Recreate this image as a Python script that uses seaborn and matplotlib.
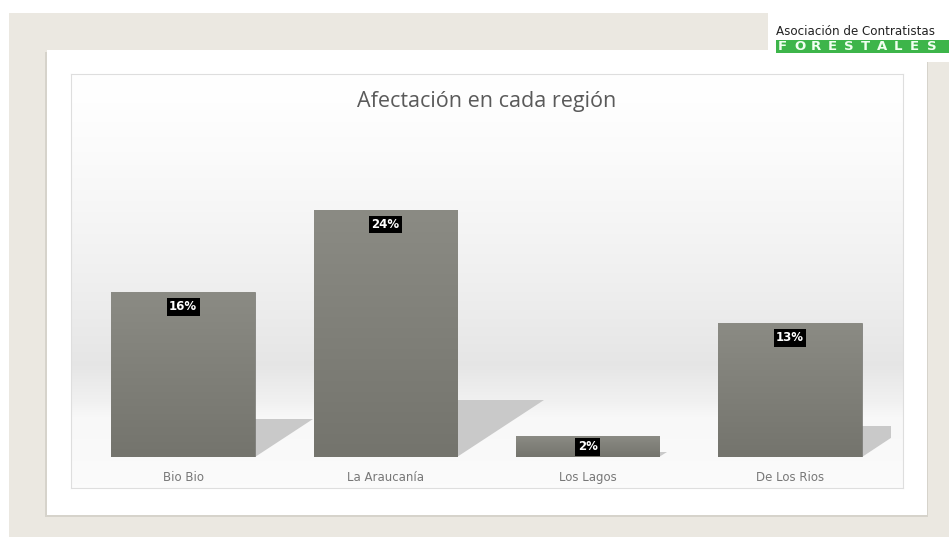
import numpy as np
import matplotlib
matplotlib.use("Agg")
import matplotlib.pyplot as plt
import matplotlib.patches as mpatches
from matplotlib.colors import LinearSegmentedColormap
import seaborn as sns

# ---- data ----
regions = ["Bio Bio", "La Araucanía", "Los Lagos", "De Los Rios"]
values = [16, 24, 2, 13]
labels = ["16%", "24%", "2%", "13%"]
title = "Afectación en cada región"
logo_top = "Asociación de Contratistas"
logo_bottom = "FORESTALES"

sns.set_theme(style="white")
plt.rcParams['font.family'] = ['Lato', 'DejaVu Sans']

W, H = 949, 537
fig = plt.figure(figsize=(W / 100, H / 100), dpi=100)
fig.patch.set_facecolor("white")


def fx(x):
    return x / W


def fy(y):
    return 1 - y / H


def rect_px(x0, y0, x1, y1, **kw):
    r = mpatches.Rectangle((fx(x0), fy(y1)), fx(x1) - fx(x0), fy(y0) - fy(y1),
                           transform=fig.transFigure, **kw)
    fig.add_artist(r)
    return r


# slide background
rect_px(9, 13, W + 2, H + 2, facecolor="#ebe8e1", edgecolor="none", zorder=0)
# card shadow + card
rect_px(45, 52, 928, 517, facecolor="#d6d3cb", edgecolor="none", zorder=0.5)
rect_px(47, 50, 927, 515, facecolor="white", edgecolor="none", zorder=0.6)
# logo area
rect_px(768, 13, W + 2, 62, facecolor="white", edgecolor="none", zorder=0.7)
rect_px(776, 40, W + 2, 53, facecolor="#3db54a", edgecolor="none", zorder=0.8)
fig.text(fx(776), fy(35), logo_top, fontsize=8.6,
         color="#222222", ha="left", va="baseline",
         family=["DejaVu Sans"], zorder=1)
for i, ch in enumerate(logo_bottom):
    fig.text(fx(778 + i * 16.5), fy(46.8), ch, fontsize=9.5,
             fontweight="bold", color="#f0fff0", ha="left", va="center",
             family=["DejaVu Sans"], zorder=1)

# chart area background (gradient wall + floor)
bg = fig.add_axes([fx(71), fy(488), fx(903) - fx(71), fy(74) - fy(488)], zorder=1)
ys = np.linspace(74, 488, 415)
col = np.zeros_like(ys)
for i, y in enumerate(ys):
    if y < 365:
        t = (y - 74) / (365 - 74)
        col[i] = 1.0 - 0.10 * t ** 1.4
    elif y < 402:
        t = (y - 365) / (402 - 365)
        col[i] = 0.90 + 0.045 * t
    else:
        t = min(1.0, (y - 402) / 15)
        col[i] = 0.945 + 0.025 * t + 0.015 * (y - 402) / 86
img = np.repeat(col[:, None], 10, axis=1)
bg.imshow(np.dstack([img, img, img]), aspect="auto", extent=[0, 1, 0, 1],
          interpolation="bilinear")
bg.set_xticks([])
bg.set_yticks([])
for s in bg.spines.values():
    s.set_color("#dedede")
    s.set_linewidth(0.8)

# title
fig.text(fx(487), fy(101), title, fontsize=15.5, color="#5a5a5a",
         ha="center", va="center", family=["Open Sans", "DejaVu Sans"], zorder=3)

# main axes for bars
ax = fig.add_axes([fx(82), fy(457), fx(891) - fx(82), fy(148) - fy(457)], zorder=2)
ax.set_facecolor("none")
sns.barplot(x=regions, y=values, color="#80807a", width=0.71, ax=ax,
            saturation=1, zorder=3)
ax.set_xlim(-0.5, 3.5)
ax.set_ylim(0, 30)
ax.set_xlabel("")
ax.set_ylabel("")
ax.set_yticks([])
ax.tick_params(axis="x", length=0, pad=10, labelsize=8.5, labelcolor="#777777")
for t in ax.get_xticklabels():
    t.set_family(["DejaVu Sans"])
for s in ax.spines.values():
    s.set_visible(False)

# px per data unit
px_x = (891 - 82) / 4.0
px_y = (457 - 148) / 30.0

bar_cmap = LinearSegmentedColormap.from_list("bar", ["#8b8b84", "#74746d"])
for patch, v, lab in zip(ax.patches, values, labels):
    x0 = patch.get_x()
    w = patch.get_width()
    xr = x0 + w
    h = patch.get_height()
    # floor shadow
    sh = 0.23 * h
    sw = 1.53 * sh * px_y / px_x
    tri = mpatches.Polygon([(xr, 0), (xr, sh), (xr + sw, sh)], closed=True,
                           facecolor="#c9c9c9", edgecolor="none", zorder=1)
    ax.add_patch(tri)
    # bar gradient
    grad = np.linspace(0, 1, 100)[:, None]
    im = ax.imshow(grad, cmap=bar_cmap, aspect="auto",
                   extent=[x0, xr, 0, h], origin="upper", zorder=3.5,
                   interpolation="bilinear")
    im.set_clip_path(patch)
    patch.set_edgecolor("#6a6a64")
    patch.set_linewidth(0.4)
    # label
    ax.annotate(lab, xy=(x0 + w / 2, h), xytext=(0, -10.5 if v > 3 else -7.5),
                textcoords="offset points", ha="center", va="center",
                fontsize=8.5, fontweight="bold", color="white", zorder=5,
                family=["DejaVu Sans"],
                bbox=dict(boxstyle="square,pad=0.2", facecolor="black",
                          edgecolor="none"))
ax.set_xlim(-0.5, 3.5)
ax.set_ylim(0, 30)

fig.savefig("out.png", dpi=100, facecolor=fig.get_facecolor())
